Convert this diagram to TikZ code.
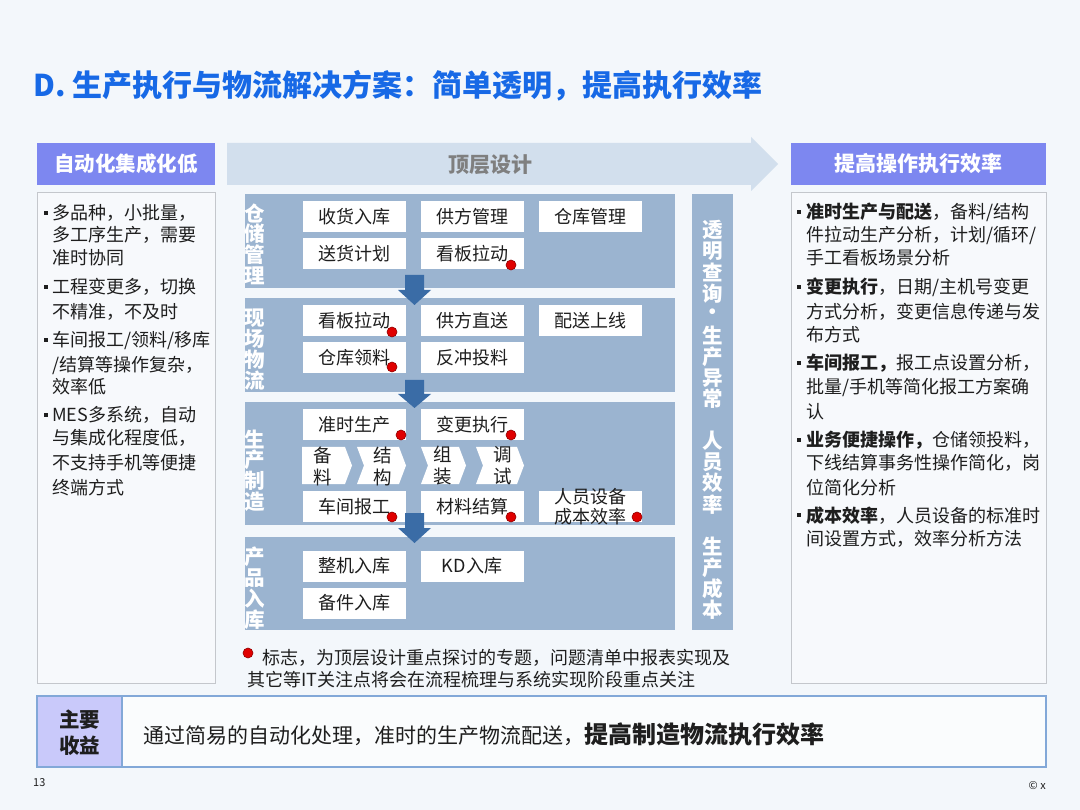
\documentclass[tikz,border=0pt]{standalone}
\usepackage{fontspec}
\setmainfont{Noto Sans CJK SC}
\definecolor{bg}{HTML}{F3F7FB}
\definecolor{titleblue}{HTML}{1769E6}
\definecolor{hdrc}{HTML}{7D87F0}
\definecolor{toparr}{HTML}{D2DFED}
\definecolor{bandc}{HTML}{9BB4D0}
\definecolor{arrblue}{HTML}{3A6CA6}
\definecolor{txt}{HTML}{1E1E1E}
\definecolor{dotred}{HTML}{E00000}
\definecolor{dotdark}{HTML}{900000}
\definecolor{cboxfill}{HTML}{F7F9FC}
\definecolor{cboxline}{HTML}{C4C7CC}
\definecolor{botline}{HTML}{82A8D8}
\definecolor{lav}{HTML}{C9C9FA}
\definecolor{greytxt}{HTML}{7F7F7F}
\tikzset{
 hdr/.style={fill=hdrc, text=white, font=\fontsize{20.5}{22}\selectfont\bfseries, inner sep=0, minimum height=42},
 wbox/.style={fill=white, inner sep=0, minimum width=103, minimum height=31, font=\fontsize{18}{20}\selectfont, text=txt},
 vlab/.style={text=white, font=\fontsize{20.5}{21}\selectfont\bfseries, inner sep=0},
 reddot/.style={fill=dotred, draw=dotdark, line width=0.6},
 bandbox/.style={fill=bandc},
 downarr/.style={fill=arrblue},
 chevbox/.style={fill=white},
 chevtxt/.style={font=\fontsize{18.5}{22}\selectfont, text=txt, inner sep=0, align=center},
 body/.style={font=\fontsize{18}{24}\selectfont, text=txt, inner sep=0, anchor=base west},
 cbox/.style={fill=cboxfill, draw=cboxline, line width=1},
 bul/.style={fill=txt},
}
\begin{document}
\begin{tikzpicture}[x=1pt,y=-1pt]
\fill[bg] (0,0) rectangle (1080,810);
\useasboundingbox (0,0) rectangle (1080,810);

% title
\node[anchor=base west, inner sep=0, font=\fontsize{30}{31}\selectfont\bfseries, text=titleblue] (title) at (33,97) {D. 生产执行与物流解决方案：简单透明，提高执行效率};

% headers
\node[hdr, minimum width=178] (lh) at (126,164) {自动化集成化低};
\node[hdr, minimum width=255, font=\fontsize{21}{22}\selectfont\bfseries] (rh) at (918.5,164) {提高操作执行效率};
\fill[toparr] (227,143) -- (751,143) -- (751,137) -- (778,164) -- (751,191) -- (751,185) -- (227,185) -- cycle;
\node[inner sep=0, text=greytxt, font=\fontsize{21}{22}\selectfont\bfseries] (top) at (490,165) {顶层设计};

% content boxes
\draw[cbox] (37,193) rectangle (215,683);
\draw[cbox] (791,193) rectangle (1046,683);

% left text
\foreach \yy in {213,287,340,415} {\fill[bul] (43.5,\yy-2) rectangle (47.5,\yy+2);}
\node[body] (l1) at (52,220) {多品种，小批量，};
\node[body] (l2) at (52,242) {多工序生产，需要};
\node[body] (l3) at (52,265) {准时协同};
\node[body] (l4) at (52,294) {工程变更多，切换};
\node[body] (l5) at (52,319) {不精准，不及时};
\node[body] (l6) at (52,347) {车间报工/领料/移库};
\node[body] (l7) at (52,372) {/结算等操作复杂，};
\node[body] (l8) at (52,394) {效率低};
\node[body] (l9) at (52,422) {MES多系统，自动};
\node[body] (l10) at (52,445) {与集成化程度低，};
\node[body] (l11) at (52,470) {不支持手机等便捷};
\node[body] (l12) at (52,494) {终端方式};

% right text
\foreach \yy in {212,287,363,440,515} {\fill[bul] (797,\yy-2) rectangle (801,\yy+2);}
\node[body] (r1) at (806,219) {\textbf{准时生产与配送}，备料/结构};
\node[body] (r2) at (806,242) {件拉动生产分析，计划/循环/};
\node[body] (r3) at (806,265) {手工看板场景分析};
\node[body] (r4) at (806,294) {\textbf{变更执行}，日期/主机号变更};
\node[body] (r5) at (806,319) {方式分析，变更信息传递与发};
\node[body] (r6) at (806,342) {布方式};
\node[body] (r7) at (806,370) {\textbf{车间报工，}报工点设置分析，};
\node[body] (r8) at (806,394) {批量/手机等简化报工方案确};
\node[body] (r9) at (806,419) {认};
\node[body] (r10) at (806,447) {\textbf{业务便捷操作，}仓储领投料，};
\node[body] (r11) at (806,470) {下线结算事务性操作简化，岗};
\node[body] (r12) at (806,494) {位简化分析};
\node[body] (r13) at (806,522) {\textbf{成本效率}，人员设备的标准时};
\node[body] (r14) at (806,545) {间设置方式，效率分析方法};

% bands
\fill[bandbox] (245,194) rectangle (675,288);
\fill[bandbox] (245,298) rectangle (675,392);
\fill[bandbox] (245,402) rectangle (675,525);
\fill[bandbox] (245,537) rectangle (675,630);
\fill[bandbox] (692,194) rectangle (733,630);

% band labels
\foreach \ch [count=\i from 0] in {仓,储,管,理} {\node[vlab] (a\i) at (255,213+21*\i) {\ch};}
\foreach \ch [count=\i from 0] in {现,场,物,流} {\node[vlab] (b\i) at (255,318+21*\i) {\ch};}
\foreach \ch [count=\i from 0] in {生,产,制,造} {\node[vlab] (c\i) at (255,439+21*\i) {\ch};}
\foreach \ch [count=\i from 0] in {产,品,入,库} {\node[vlab] (d\i) at (255,557+21*\i) {\ch};}
\foreach \ch [count=\i from 0] in {透,明,查,询,·,生,产,异,常,{},人,员,效,率,{},生,产,成,本} {\node[vlab] (v\i) at (713,230+21.1*\i) {\ch};}

% band 1
\node[wbox] (b11) at (354.5,216.5) {收货入库};
\node[wbox] (b12) at (472,216.5) {供方管理};
\node[wbox] (b13) at (590.5,216.5) {仓库管理};
\node[wbox] (b14) at (354.5,253.5) {送货计划};
\node[wbox] (b15) at (472,253.5) {看板拉动};
% band 2
\node[wbox] (b21) at (354.5,320.5) {看板拉动};
\node[wbox] (b22) at (472,320.5) {供方直送};
\node[wbox] (b23) at (590.5,320.5) {配送上线};
\node[wbox] (b24) at (354.5,357.5) {仓库领料};
\node[wbox] (b25) at (472,357.5) {反冲投料};
% band 3
\node[wbox] (b31) at (354.5,424.5) {准时生产};
\node[wbox] (b32) at (472,424.5) {变更执行};
\fill[chevbox] (302,447) -- (345,447) -- (352,465.5) -- (345,484) -- (302,484) -- cycle;
\fill[chevbox] (357,447) -- (399,447) -- (406,465.5) -- (399,484) -- (357,484) -- (364,465.5) -- cycle;
\fill[chevbox] (421,447) -- (459,447) -- (466,465.5) -- (459,484) -- (421,484) -- (428,465.5) -- cycle;
\fill[chevbox] (476,447) -- (517,447) -- (524,465.5) -- (517,484) -- (476,484) -- (483,465.5) -- cycle;
\node[chevtxt] (ch1) at (323,466) {备\\料};
\node[chevtxt] (ch2) at (383,466) {结\\构};
\node[chevtxt] (ch3) at (443,466) {组\\装};
\node[chevtxt] (ch4) at (503,466) {调\\试};
\node[wbox] (b33) at (354.5,506.5) {车间报工};
\node[wbox] (b34) at (472,506.5) {材料结算};
\node[wbox] (b35) at (590.5,506.5) {};
\node[inner sep=0, font=\fontsize{18}{20}\selectfont, text=txt, align=center] (b35t) at (590.5,507) {人员设备\\成本效率};
% band 4
\node[wbox] (b41) at (354.5,566) {整机入库};
\node[wbox] (b42) at (472,566) {KD入库};
\node[wbox] (b43) at (354.5,603) {备件入库};

% down arrows
\fill[downarr] (405,275) -- (424,275) -- (424,290) -- (431,290) -- (414.5,305) -- (398,290) -- (405,290) -- cycle;
\fill[downarr] (405,380) -- (424,380) -- (424,394) -- (431,394) -- (414.5,408) -- (398,394) -- (405,394) -- cycle;
\fill[downarr] (405,513) -- (424,513) -- (424,528) -- (431,528) -- (414.5,543) -- (398,528) -- (405,528) -- cycle;

% red dots
\foreach \px/\py in {511/265,392/332,392/367,401/435,511/435,392/517,511/517,637/517,248/653}
  {\draw[reddot] (\px,\py) circle (5);}

% legend
\node[body] (lg1) at (262,664) {标志，为顶层设计重点探讨的专题，问题清单中报表实现及};
\node[body] (lg2) at (247,686) {其它等IT关注点将会在流程梳理与系统实现阶段重点关注};

% bottom box
\fill[white!60!bg] (37,696) rectangle (1046,767);
\fill[lav] (37,696) rectangle (122,767);
\draw[botline, line width=2] (37,696) rectangle (1046,767);
\draw[botline, line width=1.5] (122,696) -- (122,767);
\node[inner sep=0, font=\fontsize{20.5}{26}\selectfont\bfseries, text=txt, align=center] (gain) at (80,733) {主要\\收益};
\node[inner sep=0, anchor=base west, font=\fontsize{21}{24}\selectfont, text=txt] (main) at (143,743) {通过简易的自动化处理，准时的生产物流配送，\textbf{\fontsize{24}{25}\selectfont 提高制造物流执行效率}};

% footer
\node[inner sep=0, anchor=west, font=\fontsize{11}{12}\selectfont, text=txt] (pg) at (33,783) {13};
\node[inner sep=0, anchor=east, font=\fontsize{11}{12}\selectfont, text=txt] (cp) at (1046,786) {© x};
\end{tikzpicture}
\end{document}
